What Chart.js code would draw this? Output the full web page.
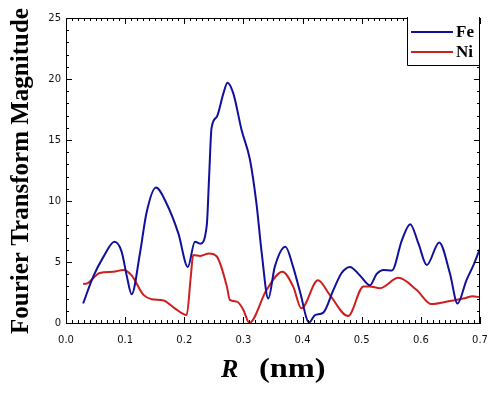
<!DOCTYPE html>
<html>
<head>
<meta charset="utf-8">
<script src="https://cdn.jsdelivr.net/npm/chart.js@4/dist/chart.umd.min.js"></script>
<style>
  html, body { margin: 0; padding: 0; background: #fff; }
  canvas { display: block; }
</style>
</head>
<body>
<canvas id="grafico" width="500" height="394"></canvas>
<script>
// Fe curve (R in nm, magnitude)
const rFe = [0.029, 0.046, 0.063, 0.082, 0.094, 0.103, 0.111, 0.125, 0.136, 0.152, 0.170, 0.190, 0.206,
  0.218, 0.227, 0.238, 0.242, 0.246, 0.255, 0.266, 0.273, 0.283, 0.297, 0.311, 0.322, 0.331, 0.342,
  0.353, 0.371, 0.384, 0.396, 0.411, 0.421, 0.435, 0.452, 0.466, 0.480, 0.497, 0.514, 0.525, 0.537,
  0.551, 0.568, 0.582, 0.596, 0.610, 0.631, 0.649, 0.662, 0.677, 0.689, 0.700];
const fe = [1.6, 3.8, 5.4, 6.66, 5.85, 3.8, 2.35, 5.7, 9.0, 11.1, 9.8, 7.35, 4.6,
  6.66, 6.5, 8.0, 12.0, 15.96, 16.9, 18.8, 19.7, 18.8, 15.8, 13.4, 9.8, 5.7, 2.0,
  4.6, 6.25, 4.6, 2.5, 0.05, 0.65, 0.85, 2.7, 4.1, 4.6, 3.9, 3.1, 4.0, 4.35,
  4.3, 6.8, 8.1, 6.5, 4.75, 6.6, 4.1, 1.6, 3.5, 4.75, 6.1];

// Ni curve
const rNi = [0.029, 0.036, 0.057, 0.080, 0.097, 0.111, 0.131, 0.145, 0.165, 0.184, 0.204, 0.211, 0.215,
  0.227, 0.242, 0.255, 0.272, 0.277, 0.289, 0.300, 0.310, 0.339, 0.366, 0.384, 0.398, 0.426, 0.446,
  0.477, 0.503, 0.513, 0.531, 0.562, 0.593, 0.618, 0.649, 0.672, 0.688, 0.700];
const ni = [3.2, 3.25, 4.1, 4.2, 4.35, 3.9, 2.3, 1.95, 1.85, 1.2, 0.65, 3.8, 5.57,
  5.5, 5.7, 5.45, 3.0, 1.9, 1.75, 1.07, 0.0, 2.7, 4.2, 3.0, 1.2, 3.5, 2.3,
  0.57, 3.0, 3.0, 2.85, 3.7, 2.7, 1.55, 1.8, 2.0, 2.2, 2.1];

const nomes = ['Fe', 'Ni'];
const cores = ['#10109c', '#cc2020'];

const pontos = (xs, ys) => xs.map((x, i) => ({ x, y: ys[i] }));

// ticks para dentro nos 4 lados, legenda e titulos dos eixos
const molduraPlugin = {
  id: 'moldura',
  afterDraw(chart) {
    const { ctx, chartArea: a, scales } = chart;
    const sx = scales.x, sy = scales.y;
    ctx.save();
    ctx.strokeStyle = '#000';
    ctx.lineWidth = 1;
    ctx.beginPath();
    ctx.moveTo(a.left, a.top + 0.5); ctx.lineTo(a.right, a.top + 0.5);
    ctx.moveTo(a.right - 0.5, a.top); ctx.lineTo(a.right - 0.5, a.bottom);
    for (let k = 0; k <= 70; k++) {
      const px = Math.round(sx.getPixelForValue(k / 100)) + 0.5;
      const L = k % 10 === 0 ? 6 : 3;
      ctx.moveTo(px, a.bottom); ctx.lineTo(px, a.bottom - L);
      ctx.moveTo(px, a.top); ctx.lineTo(px, a.top + L);
    }
    for (let k = 0; k <= 25; k++) {
      const py = Math.round(sy.getPixelForValue(k)) + 0.5;
      const L = k % 5 === 0 ? 6 : 3;
      ctx.moveTo(a.left, py); ctx.lineTo(a.left + L, py);
      ctx.moveTo(a.right, py); ctx.lineTo(a.right - L, py);
    }
    ctx.stroke();

    // legenda
    const bx = 407, by = a.top - 1, bw = a.right - bx, bh = 65 - by;
    ctx.fillStyle = '#fff';
    ctx.fillRect(bx, by, bw, bh);
    ctx.beginPath();
    ctx.moveTo(bx + 0.5, by); ctx.lineTo(bx + 0.5, by + bh + 0.5);
    ctx.lineTo(a.right - 0.5, by + bh + 0.5);
    ctx.moveTo(a.right - 0.5, by); ctx.lineTo(a.right - 0.5, by + bh);
    ctx.stroke();
    nomes.forEach((n, i) => {
      const y = 32 + i * 20;
      ctx.strokeStyle = cores[i];
      ctx.lineWidth = 2;
      ctx.beginPath(); ctx.moveTo(411, y); ctx.lineTo(453, y); ctx.stroke();
      ctx.fillStyle = '#000';
      ctx.font = 'bold 17px "Liberation Serif", serif';
      ctx.textBaseline = 'alphabetic';
      ctx.fillText(n, 456, y + 5);
    });

    // titulo eixo y
    ctx.fillStyle = '#000';
    ctx.save();
    ctx.translate(28, 171);
    ctx.rotate(-Math.PI / 2);
    ctx.textAlign = 'center';
    ctx.font = 'bold 25px "Liberation Serif", serif';
    ctx.fillText('Fourier Transform Magnitude', 0, 0);
    ctx.restore();

    // titulo eixo x
    ctx.textAlign = 'left';
    ctx.font = 'italic bold 26px "Liberation Serif", serif';
    ctx.fillText('R', 221, 377);
    ctx.save();
    ctx.translate(259, 377);
    ctx.scale(1.2, 1);
    ctx.font = 'bold 27px "Liberation Serif", serif';
    ctx.fillText('(nm)', 0, 0);
    ctx.restore();
    ctx.restore();
  }
};

const fonteTicks = { family: '"DejaVu Sans", sans-serif', size: 10 };

new Chart(document.getElementById('grafico').getContext('2d'), {
  type: 'line',
  data: {
    datasets: [
      { label: nomes[0], data: pontos(rFe, fe), borderColor: cores[0] },
      { label: nomes[1], data: pontos(rNi, ni), borderColor: cores[1] }
    ].map(d => ({ ...d, borderWidth: 2, pointRadius: 0, cubicInterpolationMode: 'monotone', fill: false }))
  },
  options: {
    responsive: false,
    animation: false,
    layout: { padding: { top: 18, right: 20, left: 0, bottom: 0 } },
    plugins: { legend: { display: false }, tooltip: { enabled: false } },
    scales: {
      x: {
        type: 'linear', min: 0, max: 0.7,
        ticks: { stepSize: 0.1, padding: 11, color: '#111', font: fonteTicks, callback: v => v.toFixed(1), maxRotation: 0 },
        grid: { drawOnChartArea: false, drawTicks: false },
        border: { color: '#000', width: 1 },
        afterFit: s => { s.height = 71; }
      },
      y: {
        min: 0, max: 25,
        ticks: { stepSize: 5, padding: 5, color: '#111', font: fonteTicks },
        grid: { drawOnChartArea: false, drawTicks: false },
        border: { color: '#000', width: 1 },
        afterFit: s => { s.width = 66; }
      }
    }
  },
  plugins: [molduraPlugin]
});
</script>
</body>
</html>
